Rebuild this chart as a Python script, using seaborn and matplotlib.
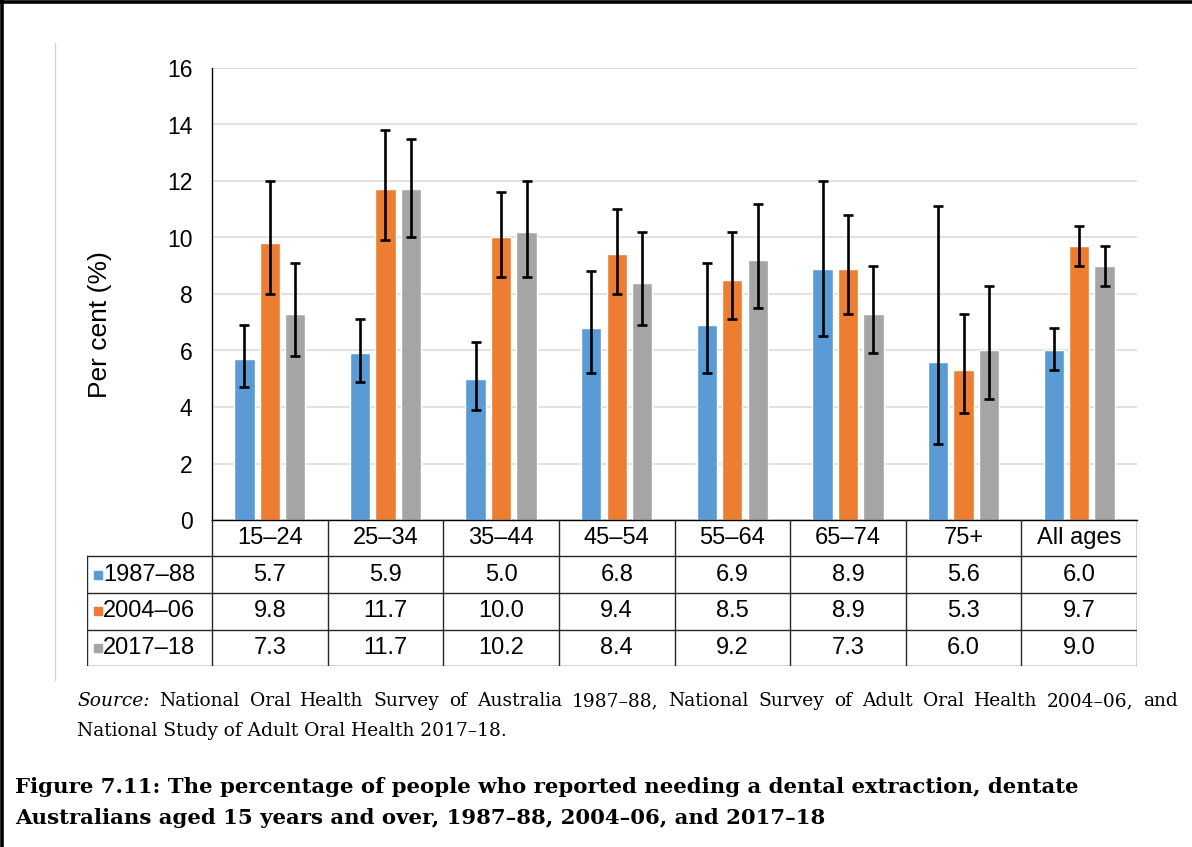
import numpy as np
import pandas as pd
import matplotlib
matplotlib.use("Agg")
import matplotlib.pyplot as plt
from matplotlib.lines import Line2D
import seaborn as sns

# ---- data -------------------------------------------------------------
groups = ["15–24", "25–34", "35–44", "45–54", "55–64", "65–74", "75+", "All ages"]
periods = ["1987–88", "2004–06", "2017–18"]

pct_1987 = [5.7, 5.9, 5.0, 6.8, 6.9, 8.9, 5.6, 6.0]
pct_2004 = [9.8, 11.7, 10.0, 9.4, 8.5, 8.9, 5.3, 9.7]
pct_2017 = [7.3, 11.7, 10.2, 8.4, 9.2, 7.3, 6.0, 9.0]

# 95% confidence limits
low_1987 = [4.7, 4.9, 3.9, 5.2, 5.2, 6.5, 2.7, 5.3]
high_1987 = [6.9, 7.1, 6.3, 8.8, 9.1, 12.0, 11.1, 6.8]
low_2004 = [8.0, 9.9, 8.6, 8.0, 7.1, 7.3, 3.8, 9.0]
high_2004 = [12.0, 13.8, 11.6, 11.0, 10.2, 10.8, 7.3, 10.4]
low_2017 = [5.8, 10.0, 8.6, 6.9, 7.5, 5.9, 4.3, 8.3]
high_2017 = [9.1, 13.5, 12.0, 10.2, 11.2, 9.0, 8.3, 9.7]

colors = ["#5B9BD5", "#ED7D31", "#A5A5A5"]

values = [pct_1987, pct_2004, pct_2017]
lows = [low_1987, low_2004, low_2017]
highs = [high_1987, high_2004, high_2017]

df = pd.DataFrame({
    "group": np.tile(groups, len(periods)),
    "period": np.repeat(periods, len(groups)),
    "value": np.concatenate(values),
})

# ---- figure -----------------------------------------------------------
sns.set_theme(style="white")
plt.rcParams["font.family"] = ["Liberation Sans", "DejaVu Sans"]
SERIF = ["DejaVu Serif"]
TABLE_FS = 17

W, H = 1192, 847
fig = plt.figure(figsize=(W / 100, H / 100), dpi=100)
fig.patch.set_facecolor("white")


def fx(px):
    return px / W


def fy(py):
    return 1 - py / H


AX_L, AX_R, AX_T, AX_B = 212, 1137, 68, 520
ax = fig.add_axes([fx(AX_L), fy(AX_B), fx(AX_R) - fx(AX_L), fy(AX_T) - fy(AX_B)])

sns.barplot(data=df, x="group", y="value", hue="period", order=groups,
            hue_order=periods, palette=colors, saturation=1, width=0.66,
            gap=0.2, errorbar=None, legend=False, ax=ax, zorder=2)

for cont, v, lo, hi in zip(ax.containers, values, lows, highs):
    xs = [p.get_x() + p.get_width() / 2 for p in cont.patches]
    v = np.asarray(v)
    ax.errorbar(xs, v, yerr=[v - np.asarray(lo), np.asarray(hi) - v],
                fmt="none", ecolor="black", elinewidth=1.9, capsize=3.4,
                capthick=1.9, zorder=3)

ax.set_xlim(-0.5, len(groups) - 0.5)
ax.set_ylim(0, 16)
ax.set_yticks(range(0, 17, 2))
ax.yaxis.grid(True, color="#D9D9D9", linewidth=1.1)
ax.set_axisbelow(True)
ax.set_xticks([])
ax.set_xlabel("")
ax.set_ylabel("")
for s in ["top", "right"]:
    ax.spines[s].set_visible(False)
for s in ["left", "bottom"]:
    ax.spines[s].set_color("black")
    ax.spines[s].set_linewidth(1.0)
ax.tick_params(axis="y", length=0, pad=14, labelsize=16.5, labelcolor="black")

fig.text(fx(100), fy(325), "Per cent (%)", rotation=90, ha="center",
         va="center", fontsize=19, color="black")

# ---- data table beneath the axis --------------------------------------
unit = (AX_R - AX_L) / len(groups)
x_left = -0.5 - (AX_L - 87) / unit
TB_T, TB_B = AX_B, 666
tab = fig.add_axes([fx(87), fy(TB_B), fx(AX_R) - fx(87), fy(TB_T) - fy(TB_B)])
tab.set_xlim(x_left, len(groups) - 0.5)
tab.set_ylim(TB_B, TB_T)
tab.axis("off")

row_edges = [520, 556, 593, 629.5, 666]
line_kw = dict(color="#262626", lw=1.0, solid_capstyle="projecting")
for y in row_edges[1:]:
    tab.plot([x_left, len(groups) - 0.5], [y, y], **line_kw)
tab.plot([x_left, x_left], [row_edges[1], row_edges[-1]], **line_kw)
for i in range(len(groups) + 1):
    tab.plot([i - 0.5, i - 0.5], [row_edges[0], row_edges[-1]], **line_kw)

head_y = (row_edges[0] + row_edges[1]) / 2
for i, g in enumerate(groups):
    tab.text(i, head_y, g, ha="center", va="center", fontsize=TABLE_FS,
             color="black")

for r, (per, col, vals) in enumerate(zip(periods, colors, values)):
    yc = (row_edges[r + 1] + row_edges[r + 2]) / 2
    tab.plot([x_left + 11 / unit], [yc], marker="s", ms=5.5, color=col,
             mec=col, ls="none")
    tab.text(x_left + 16 / unit, yc, per, ha="left", va="center",
             fontsize=TABLE_FS, color="black")
    for i, v in enumerate(vals):
        tab.text(i, yc, f"{v:.1f}", ha="center", va="center",
                 fontsize=TABLE_FS, color="black")

# ---- frame lines ------------------------------------------------------
fig.add_artist(Line2D([fx(55), fx(55)], [fy(43), fy(680)], color="#D0D0D0",
                      lw=0.9, transform=fig.transFigure))
fig.add_artist(Line2D([0, 1], [fy(2), fy(2)], color="black", lw=2.6,
                      transform=fig.transFigure))
fig.add_artist(Line2D([fx(2), fx(2)], [0, 1], color="black", lw=2.6,
                      transform=fig.transFigure))

# ---- source note and caption ------------------------------------------
renderer = fig.canvas.get_renderer()


def justified(words, x0, x1, y, size):
    arts = [fig.text(0, fy(y), w, fontsize=size, family=SERIF, style=st,
                     va="baseline", ha="left", color="black")
            for w, st in words]
    widths = [a.get_window_extent(renderer).width for a in arts]
    gap = ((x1 - x0) - sum(widths)) / (len(arts) - 1)
    x = x0
    for a, w in zip(arts, widths):
        a.set_x(fx(x))
        x += w + gap


SRC_FS = 13.4
src1 = ("National Oral Health Survey of Australia 1987–88, National Survey "
        "of Adult Oral Health 2004–06, and").split()
justified([("Source:", "italic")] + [(w, "normal") for w in src1],
          77, 1178, 706, SRC_FS)
fig.text(fx(77), fy(736), "National Study of Adult Oral Health 2017–18.",
         fontsize=SRC_FS, family=SERIF, va="baseline", ha="left", color="black")

CAP_FS = 15.3
cap1 = ("Figure 7.11: The percentage of people who reported needing a dental "
        "extraction, dentate")
cap2 = "Australians aged 15 years and over, 1987–88, 2004–06, and 2017–18"
fig.text(fx(15), fy(793), cap1, fontsize=CAP_FS, family=SERIF,
         fontweight="bold", va="baseline", ha="left", color="black")
fig.text(fx(15), fy(824), cap2, fontsize=CAP_FS, family=SERIF,
         fontweight="bold", va="baseline", ha="left", color="black")

fig.savefig("out.png", dpi=100, facecolor="white")
